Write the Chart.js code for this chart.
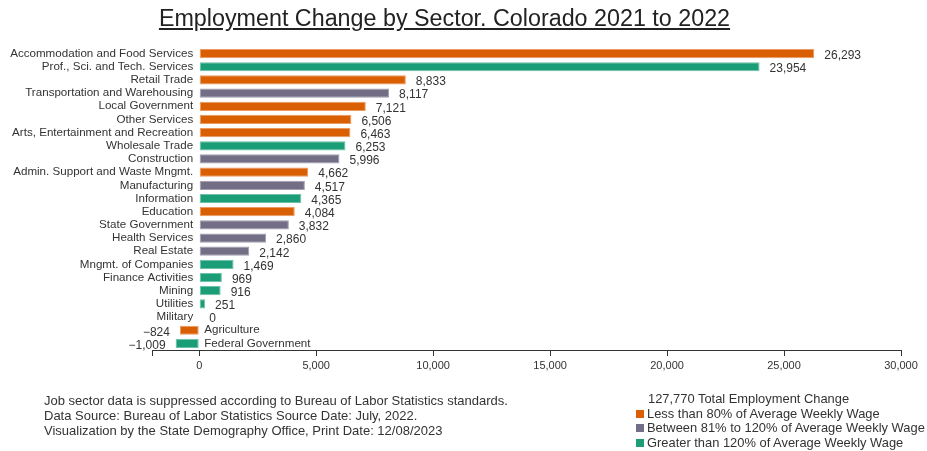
<!DOCTYPE html>
<html>
<head>
<meta charset="utf-8">
<script src="https://cdn.jsdelivr.net/npm/chart.js@4"></script>
<style>
  body { margin: 0; background: #fff; font-family: "Liberation Sans", Arial, sans-serif; color: #333; }
  #wrap { position: relative; width: 927px; height: 451px; overflow: hidden; }
  #title { position: absolute; left: 0; width: 889px; top: 5px; text-align: center; font-size: 23.3px; color: #222; text-decoration: underline; }
  #notes { position: absolute; left: 44px; top: 393px; font-size: 13px; line-height: 15px; }
  #legend { position: absolute; left: 636px; top: 392px; font-size: 12.9px; line-height: 14.5px; white-space: nowrap; }
  #legend .sw { display: inline-block; width: 8px; height: 8px; margin-right: 3px; }
  canvas { position: absolute; left: 0; top: 0; }
</style>
</head>
<body>
<div id="wrap">
  <canvas id="chart" width="927" height="451"></canvas>
  <div id="title">Employment Change by Sector. Colorado 2021 to 2022</div>
  <div id="notes">
    Job sector data is suppressed according to Bureau of Labor Statistics standards.<br>
    Data Source: Bureau of Labor Statistics Source Date: July, 2022.<br>
    Visualization by the State Demography Office, Print Date: 12/08/2023
  </div>
  <div id="legend"></div>
</div>
<script>
const sectors = ['Accommodation and Food Services', 'Prof., Sci. and Tech. Services', 'Retail Trade',
  'Transportation and Warehousing', 'Local Government', 'Other Services', 'Arts, Entertainment and Recreation',
  'Wholesale Trade', 'Construction', 'Admin. Support and Waste Mngmt.', 'Manufacturing', 'Information',
  'Education', 'State Government', 'Health Services', 'Real Estate', 'Mngmt. of Companies',
  'Finance Activities', 'Mining', 'Utilities', 'Military', 'Agriculture', 'Federal Government'];
const changes = [26293, 23954, 8833, 8117, 7121, 6506, 6463, 6253, 5996, 4662, 4517, 4365,
  4084, 3832, 2860, 2142, 1469, 969, 916, 251, 0, -824, -1009];
// 0 = under 80%, 1 = 81-120%, 2 = over 120% of average weekly wage
const wageGroup = [0, 2, 0, 1, 0, 0, 0, 2, 1, 0, 1, 2, 0, 1, 1, 1, 2, 2, 2, 2, 2, 0, 2];
const groupNames = ['Less than 80% of Average Weekly Wage', 'Between 81% to 120% of Average Weekly Wage',
  'Greater than 120% of Average Weekly Wage'];
const groupColors = ['#d95f02', '#736e86', '#1b9e77'];
const groupBorders = ['#eb9a62', '#a29eb1', '#6cc2a8'];
const totalChange = 127770;
const xTicks = [0, 5000, 10000, 15000, 20000, 25000, 30000];
const xMin = -2018, xMax = 30000;

const fmt = v => (v < 0 ? '\u2212' : '') + Math.abs(v).toLocaleString('en-US');

// legend block
const leg = document.getElementById('legend');
leg.innerHTML = '<div style="padding-left:12px">' + fmt(totalChange) + ' Total Employment Change</div>' +
  groupNames.map((n, i) => '<div><span class="sw" style="background:' + groupColors[i] + '"></span>' + n + '</div>').join('');

const labelPlugin = {
  id: 'barLabels',
  afterDatasetsDraw(chart) {
    const ctx = chart.ctx;
    const x0 = chart.scales.x.getPixelForValue(0);
    const meta = chart.getDatasetMeta(0);
    ctx.save();
    ctx.fillStyle = '#333';
    ctx.textBaseline = 'middle';
    meta.data.forEach((bar, i) => {
      const v = changes[i];
      ctx.font = '11.6px "Liberation Sans", Arial, sans-serif';
      ctx.textAlign = v >= 0 ? 'right' : 'left';
      ctx.fillText(sectors[i], v >= 0 ? x0 - 6 : x0 + 5, bar.y);
      ctx.font = '12px "Liberation Sans", Arial, sans-serif';
      ctx.textAlign = v >= 0 ? 'left' : 'right';
      ctx.fillText(fmt(v), v >= 0 ? bar.x + 10 : bar.x - 10, bar.y + 2);
    });
    ctx.restore();
  }
};

new Chart(document.getElementById('chart'), {
  type: 'bar',
  data: {
    labels: sectors,
    datasets: [{
      data: changes,
      backgroundColor: wageGroup.map(g => groupColors[g]),
      borderColor: wageGroup.map(g => groupBorders[g]),
      borderWidth: 1,
      borderSkipped: false,
      barPercentage: 0.7,
      categoryPercentage: 1
    }]
  },
  options: {
    indexAxis: 'y',
    responsive: false,
    animation: false,
    layout: { padding: { left: 152, right: 26, top: 47, bottom: 71 } },
    plugins: { legend: { display: false }, tooltip: { enabled: false } },
    scales: {
      y: { display: false },
      x: {
        min: xMin,
        max: xMax,
        afterBuildTicks: s => { s.ticks = [xMin].concat(xTicks).map(v => ({ value: v })); },
        afterFit: s => { s.height = 30; },
        grid: { drawOnChartArea: false, drawTicks: true, tickLength: 6, color: '#333' },
        border: { display: true, color: '#333' },
        ticks: {
          autoSkip: false,
          maxRotation: 0,
          padding: 3,
          color: '#333',
          font: { family: '"Liberation Sans", Arial, sans-serif', size: 11 },
          callback: v => v < 0 ? '' : fmt(v)
        }
      }
    }
  },
  plugins: [labelPlugin]
});
</script>
</body>
</html>
